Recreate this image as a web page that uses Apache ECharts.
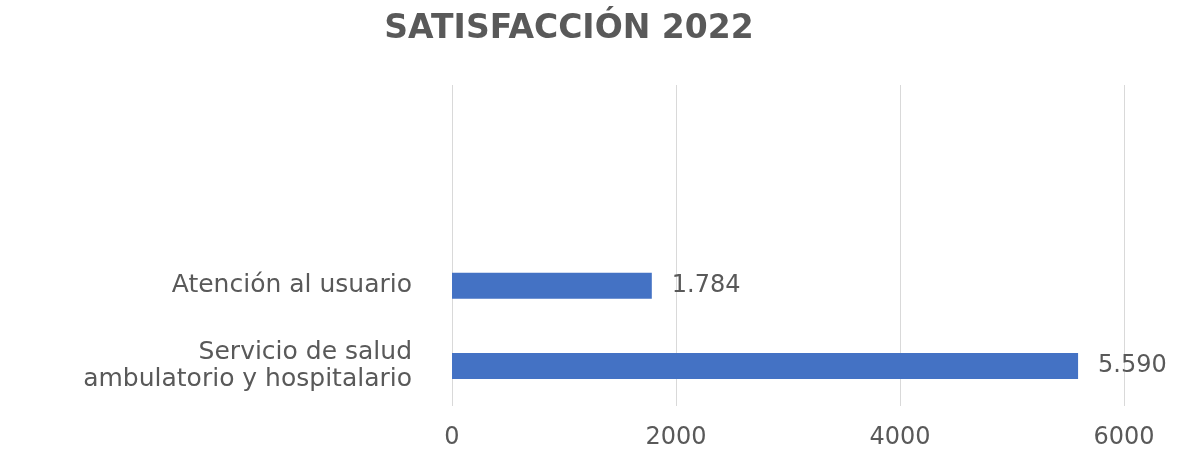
<!DOCTYPE html>
<html><head><meta charset="utf-8">
<script src="https://cdn.jsdelivr.net/npm/echarts@6/dist/echarts.min.js"></script>
<style>html,body{margin:0;padding:0;background:#fff}#c{width:1191px;height:450px}</style>
</head><body><div id="c"></div>
<script>
const titleText = 'SATISFACCIÓN 2022';
const categories = ['Servicio de salud\nambulatorio y hospitalario', 'Atención al usuario', '', ''];
const values = [5590, 1784, null, null];
const xTicks = [0, 2000, 4000, 6000];

const chart = echarts.init(document.getElementById('c'));
const fmt = v => String(v).replace(/\B(?=(\d{3})+(?!\d))/g, '.');
chart.setOption({
  animation: false,
  title: {
    text: titleText, left: 564, top: 8, textAlign: 'center',
    textStyle: { fontFamily: 'DejaVu Sans', fontWeight: 'bold', fontSize: 33, color: '#595959' }
  },
  grid: { left: 452, right: 67, top: 85, bottom: 40, containLabel: false },
  xAxis: {
    type: 'value', min: xTicks[0], max: xTicks[xTicks.length - 1], interval: 2000,
    axisLine: { show: false }, axisTick: { show: false },
    splitLine: { lineStyle: { color: '#d9d9d9', width: 1 } },
    axisLabel: { fontFamily: 'DejaVu Sans', fontSize: 24, color: '#595959', margin: 20, formatter: v => String(v) }
  },
  yAxis: {
    type: 'category', data: categories,
    axisLine: { show: false }, axisTick: { show: false },
    axisLabel: { fontFamily: 'DejaVu Sans', fontSize: 25, color: '#595959', margin: 40, lineHeight: 27, align: 'right' }
  },
  series: [{
    type: 'bar', data: values, barWidth: 26,
    itemStyle: { color: '#4472C4' },
    label: {
      show: true, position: 'right', distance: 20,
      fontFamily: 'DejaVu Sans', fontSize: 24, color: '#595959',
      formatter: p => p.value == null ? '' : fmt(p.value)
    }
  }]
});
</script></body></html>
